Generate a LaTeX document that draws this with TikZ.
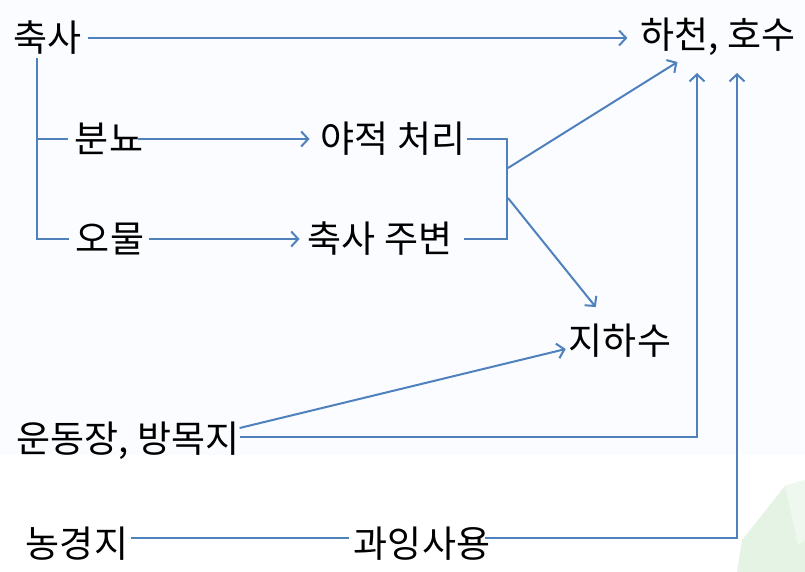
\documentclass[tikz,border=0pt]{standalone}
\usepackage{fontspec}
\newfontfamily\krfont{Noto Sans CJK KR}
\usetikzlibrary{arrows.meta}
\definecolor{lineblue}{HTML}{4F81BD}
\definecolor{topbg}{HTML}{FBFCFF}
\definecolor{leafgreen}{HTML}{E4F3E4}
\definecolor{leaflight}{HTML}{EEF8EE}

\begin{document}
\begin{tikzpicture}[x=1pt, y=-1pt,
    font=\krfont\fontsize{37}{41}\selectfont,
    txt/.style={inner sep=0pt, anchor=center},
    flow/.style={draw=lineblue, line width=2pt,
        -{Straight Barb[length=7pt, width=15pt, line width=2pt]}},
    link/.style={draw=lineblue, line width=1.3pt}]
    \useasboundingbox (0,0) rectangle (805,572);

    % Background
    \fill[topbg] (0,0) rectangle (805,455);
    \fill[leafgreen] (737,572) -- (742,540) -- (785,486) -- (805,480) -- (805,572) -- cycle;
    \fill[leaflight] (785,486) -- (805,480) -- (805,540) -- (798,545) -- cycle;

    % Sources and targets
    \node[txt] (chuksa) at (47.5,38) {축사};
    \node[txt] (hacheon) at (718,37) {하천, 호수};
    \node[txt] (bunnyo) at (109,139) {분뇨};
    \node[txt] (yajeok) at (393,139) {야적 처리};
    \node[txt] (omul) at (110,239) {오물};
    \node[txt] (jubyeon) at (380,239) {축사 주변};
    \node[txt] (jihasu) at (620,341) {지하수};
    \node[txt] (undong) at (128,441) {운동장, 방목지};
    \node[txt] (nong) at (77,544) {농경지};
    \node[txt] (gwaing) at (422,544) {과잉사용};

    % Branch points
    \coordinate (trunk) at (37,58);
    \coordinate (merge) at (507,188);
    \coordinate (mergeA) at (508,168);
    \coordinate (mergeB) at (508,198);

    % 축사 -> 하천, 호수
    \draw[flow, shorten <=6pt, shorten >=13pt] (chuksa.east) -- (chuksa.east -| hacheon.west);

    % 축사 -> 분뇨, 오물
    \draw[link] (trunk) |- ([xshift=-7pt]bunnyo.west);
    \draw[link] (trunk) |- ([xshift=-7pt]omul.west);
    \draw[flow, shorten <=-5pt, shorten >=11pt] (bunnyo.east) -- (yajeok.west);
    \draw[flow, shorten <=5pt, shorten >=8pt] (omul.east) -- (jubyeon.west);

    % Bracket
    \draw[link] ([xshift=2pt]yajeok.east) -| (merge) |- ([xshift=12pt]jubyeon.east);
    \draw[flow] (mergeA) -- ([xshift=37pt, yshift=-6pt]hacheon.south west);
    \draw[flow] (mergeB) -- ([xshift=27pt, yshift=17pt]jihasu.north west);

    % 운동장, 방목지
    \draw[flow] ([yshift=13pt]undong.east) -- ([xshift=-3pt, yshift=-8pt]jihasu.west);
    \draw[flow, line width=1.5pt] ([yshift=4pt]undong.east) -| ([xshift=-21pt, yshift=-17pt]hacheon.south);

    % 농경지 -> 과잉사용
    \draw[link] ([xshift=3pt, yshift=6pt]nong.east) -- ([xshift=-5pt, yshift=6pt]gwaing.west);
    \draw[flow, line width=1.5pt] ([xshift=-5pt, yshift=6pt]gwaing.east) -| ([xshift=19pt, yshift=-17pt]hacheon.south);

\end{tikzpicture}
\end{document}
